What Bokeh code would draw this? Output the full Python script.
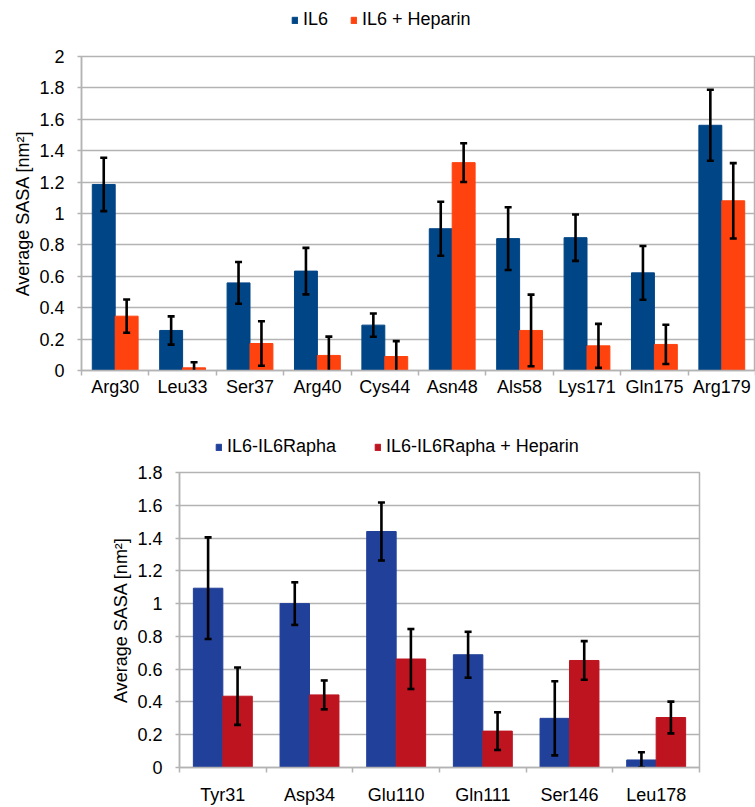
import numpy as np
from bokeh.plotting import figure
from bokeh.models import (Range1d, FixedTicker, CustomJSTickFormatter, Legend,
                          LegendItem, ColumnDataSource, Plot)
from bokeh.layouts import column, row
from bokeh.embed import file_html
from bokeh.resources import INLINE

# ---------------- data ----------------
residues_top = ["Arg30", "Leu33", "Ser37", "Arg40", "Cys44", "Asn48",
                "Als58", "Lys171", "Gln175", "Arg179"]
il6 = [1.185, 0.255, 0.558, 0.633, 0.289, 0.903, 0.84, 0.846, 0.622, 1.562]
il6_err = [0.17, 0.09, 0.133, 0.148, 0.074, 0.172, 0.2, 0.148, 0.171, 0.226]
il6_hep = [0.346, 0.017, 0.172, 0.096, 0.089, 1.324, 0.255, 0.157, 0.166, 1.081]
il6_hep_err = [0.106, 0.036, 0.142, 0.12, 0.098, 0.123, 0.228, 0.14, 0.125, 0.24]
top_series = ["IL6", "IL6 + Heparin"]
top_ticks = [0, 0.2, 0.4, 0.6, 0.8, 1.0, 1.2, 1.4, 1.6, 1.8, 2.0]

residues_bot = ["Tyr31", "Asp34", "Glu110", "Gln111", "Ser146", "Leu178"]
cplx = [1.094, 1.0, 1.44, 0.688, 0.30, 0.046]
cplx_err = [0.31, 0.13, 0.177, 0.14, 0.226, 0.047]
cplx_hep = [0.435, 0.443, 0.662, 0.222, 0.653, 0.305]
cplx_hep_err = [0.175, 0.088, 0.183, 0.115, 0.118, 0.097]
bot_series = ["IL6-IL6Rapha", "IL6-IL6Rapha + Heparin"]
bot_ticks = [0, 0.2, 0.4, 0.6, 0.8, 1.0, 1.2, 1.4, 1.6, 1.8]

Y_TITLE = "Average SASA [nm²]"
FONT = "Liberation Sans"
GRID = "#b3b3b3"


def no_align(p):
    if "frame_align" in Plot.properties():
        p.frame_align = False


def make_legend_fig(names, colors, height, loc, spacing):
    f = figure(width=755, height=height, x_range=Range1d(0, 1),
               y_range=Range1d(0, 1), x_axis_type=None, y_axis_type=None,
               output_backend="svg", toolbar_location=None,
               min_border_left=0, min_border_right=0, min_border_top=0,
               min_border_bottom=0)
    no_align(f)
    f.outline_line_color = None
    f.background_fill_color = "white"
    f.border_fill_color = "white"
    rs = []
    for c in colors:
        rs.append(f.vbar(x=[5], top=[5], bottom=[4], width=0.1,
                         fill_color=c, line_color=c))
    leg = Legend(items=[LegendItem(label=nm, renderers=[r])
                        for nm, r in zip(names, rs)],
                 orientation="horizontal", location=loc,
                 glyph_width=7, glyph_height=8, label_standoff=5,
                 spacing=spacing, padding=0, margin=0,
                 border_line_color=None, background_fill_alpha=0,
                 label_text_font=FONT, label_text_font_size="18px",
                 label_height=20, label_text_color="black")
    f.add_layout(leg)
    return f


def make_chart(cats, m1, e1, m2, e2, colors, ticks, height, border, x_standoff):
    n = len(cats)
    bl, br, bt, bb = border
    p = figure(width=755, height=height, x_range=Range1d(0, n),
               y_range=Range1d(0, ticks[-1]), output_backend="svg",
               toolbar_location=None, min_border_left=bl, min_border_right=br,
               min_border_top=bt, min_border_bottom=bb)
    no_align(p)
    p.background_fill_color = "white"
    p.border_fill_color = "white"
    p.outline_line_color = GRID
    p.outline_line_width = 1.5

    idx = np.arange(n) + 0.5
    w = 0.34
    for k, (m, e, c) in enumerate([(m1, e1, colors[0]), (m2, e2, colors[1])]):
        m = np.array(m)
        e = np.array(e)
        x = idx + (-w / 2 if k == 0 else w / 2)
        src = ColumnDataSource(dict(x=x, top=m, lo=m - e, hi=m + e))
        p.vbar(x="x", top="top", width=w, source=src, fill_color=c,
               line_color=c, line_width=1)
        p.segment(x0="x", y0="lo", x1="x", y1="hi", source=src,
                  line_color="black", line_width=2.6)
        p.scatter(x="x", y="hi", source=src, marker="dash", size=7,
                  line_color="black", line_width=2.6)
        p.scatter(x="x", y="lo", source=src, marker="dash", size=7,
                  line_color="black", line_width=2.6)

    # x axis
    xa = p.xaxis[0]
    xa.ticker = FixedTicker(ticks=list(idx), minor_ticks=list(range(n + 1)))
    xa.major_label_overrides = {float(v): c for v, c in zip(idx, cats)}
    xa.major_tick_line_color = None
    xa.major_tick_out = 0
    xa.major_tick_in = 0
    xa.minor_tick_line_color = GRID
    xa.minor_tick_line_width = 1.5
    xa.minor_tick_out = 5
    xa.minor_tick_in = 0
    xa.axis_line_color = GRID
    xa.axis_line_width = 1.5
    xa.major_label_text_font = FONT
    xa.major_label_text_font_size = "18px"
    xa.major_label_text_color = "black"
    xa.major_label_standoff = x_standoff

    # y axis
    ya = p.yaxis[0]
    ya.ticker = FixedTicker(ticks=ticks, minor_ticks=[])
    ya.formatter = CustomJSTickFormatter(
        code="return String(Math.round(tick * 10) / 10)")
    ya.major_tick_line_color = GRID
    ya.major_tick_line_width = 1.5
    ya.major_tick_out = 4
    ya.major_tick_in = 0
    ya.minor_tick_line_color = None
    ya.axis_line_color = GRID
    ya.axis_line_width = 1.5
    ya.major_label_text_font = FONT
    ya.major_label_text_font_size = "18px"
    ya.major_label_text_color = "black"
    ya.major_label_standoff = 13
    ya.axis_label = Y_TITLE
    ya.axis_label_text_font = FONT
    ya.axis_label_text_font_size = "18px"
    ya.axis_label_text_font_style = "normal"
    ya.axis_label_text_color = "black"
    ya.axis_label_standoff = 3

    p.xgrid.grid_line_color = None
    p.ygrid.ticker = FixedTicker(ticks=ticks)
    p.ygrid.grid_line_color = GRID
    p.ygrid.grid_line_width = 1.5
    return p


leg1 = make_legend_fig(top_series, ["#004586", "#ff420e"], 40, (291, 10), 22)
p1 = make_chart(residues_top, il6, il6_err, il6_hep, il6_hep_err,
                ["#004586", "#ff420e"], top_ticks, 364, (81, 0, 16, 34), 1)
leg2 = make_legend_fig(bot_series, ["#21409a", "#bd1420"], 60, (215, 7), 38)
p2 = make_chart(residues_bot, cplx, cplx_err, cplx_hep, cplx_hep_err,
                ["#21409a", "#bd1420"], bot_ticks, 343, (179, 56, 8, 34), 12)

layout = column(row(leg1), row(p1), row(leg2), row(p2), spacing=0)
open("out.html", "w").write(file_html(layout, INLINE))
